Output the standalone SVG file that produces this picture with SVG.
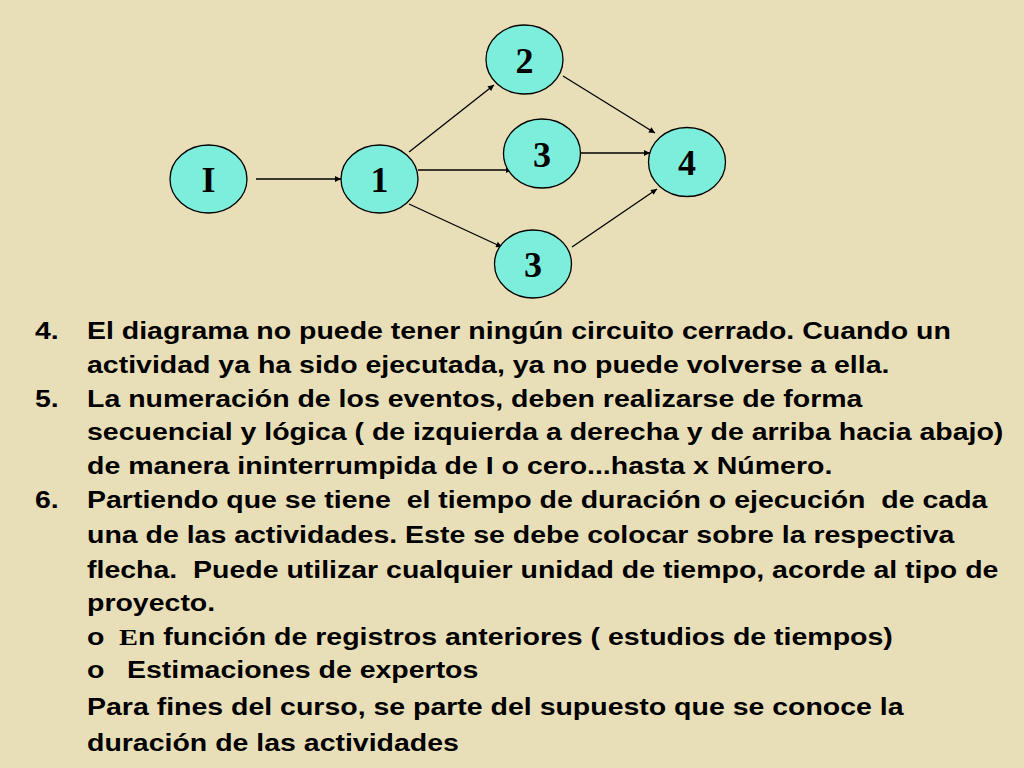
<svg xmlns="http://www.w3.org/2000/svg" width="1024" height="768" viewBox="0 0 1024 768">
<defs>
<marker id="ah" viewBox="0 0 10 10" refX="10" refY="5" markerWidth="7" markerHeight="6" orient="auto" markerUnits="userSpaceOnUse">
<path d="M0,0 L10,5 L0,10 z" fill="#000"/>
</marker>
</defs>
<style>
.node ellipse{fill:#7DEEDC;stroke:#000;stroke-width:1.3}
.node text{font-family:"Liberation Serif","Times New Roman",serif;font-weight:bold;font-size:36px;text-anchor:middle;fill:#000}
.conn line{stroke:#000;stroke-width:1.3;marker-end:url(#ah)}
.t{font-family:"Liberation Sans",Arial,sans-serif;font-weight:bold;font-size:24px;fill:#000}
.s{font-family:"Liberation Serif","Times New Roman",serif}
</style>
<rect width="1024" height="768" fill="#E8DFB8"/>
<g id="connectors" class="conn">
<line x1="256" y1="179" x2="341" y2="179"/>
<line x1="409" y1="152" x2="494" y2="85"/>
<line x1="418" y1="170" x2="512" y2="170"/>
<line x1="409" y1="204" x2="502" y2="247"/>
<line x1="563" y1="76" x2="655" y2="133"/>
<line x1="581" y1="153" x2="650" y2="153"/>
<line x1="572" y1="247" x2="657" y2="189"/>
</g>
<g id="node-I" class="node"><ellipse cx="208.5" cy="179" rx="38.5" ry="34"/><text x="208.5" y="192">I</text></g>
<g id="node-1" class="node"><ellipse cx="379.5" cy="179" rx="38.5" ry="34"/><text x="379.5" y="192">1</text></g>
<g id="node-2" class="node"><ellipse cx="524.5" cy="59.5" rx="38.5" ry="34.5"/><text x="524.5" y="73">2</text></g>
<g id="node-3a" class="node"><ellipse cx="542" cy="153.5" rx="38.5" ry="34.5"/><text x="542" y="167">3</text></g>
<g id="node-3b" class="node"><ellipse cx="533" cy="264" rx="38.5" ry="34"/><text x="533" y="277">3</text></g>
<g id="node-4" class="node"><ellipse cx="687" cy="162" rx="38.5" ry="34.5"/><text x="687" y="175">4</text></g>
<g id="body" transform="scale(1.187,1)">
<text class="t" x="29.5" y="339">4.</text>
<text class="t" x="73.3" y="339">El diagrama no puede tener ningún circuito cerrado. Cuando un</text>
<text class="t" x="73.3" y="373">actividad ya ha sido ejecutada, ya no puede volverse a ella.</text>
<text class="t" x="29.5" y="407">5.</text>
<text class="t" x="73.3" y="407">La numeración de los eventos, deben realizarse de forma</text>
<text class="t" x="73.3" y="440">secuencial y lógica ( de izquierda a derecha y de arriba hacia abajo)</text>
<text class="t" x="73.3" y="474">de manera ininterrumpida de I o cero...hasta x Número.</text>
<text class="t" x="29.5" y="508">6.</text>
<text class="t" x="73.3" y="508" xml:space="preserve">Partiendo que se tiene  el tiempo de duración o ejecución  de cada</text>
<text class="t" x="73.3" y="543">una de las actividades. Este se debe colocar sobre la respectiva</text>
<text class="t" x="73.3" y="578" xml:space="preserve">flecha.  Puede utilizar cualquier unidad de tiempo, acorde al tipo de</text>
<text class="t" x="73.3" y="611">proyecto.</text>
<text class="t" x="73.3" y="645">o</text>
<text class="t" x="100.3" y="645"><tspan class="s">E</tspan>n función de registros anteriores ( estudios de tiempos)</text>
<text class="t" x="73.3" y="678">o</text>
<text class="t" x="107" y="678">Estimaciones de expertos</text>
<text class="t" x="73.3" y="715">Para fines del curso, se parte del supuesto que se conoce la</text>
<text class="t" x="73.3" y="751">duración de las actividades</text>
</g>
</svg>
